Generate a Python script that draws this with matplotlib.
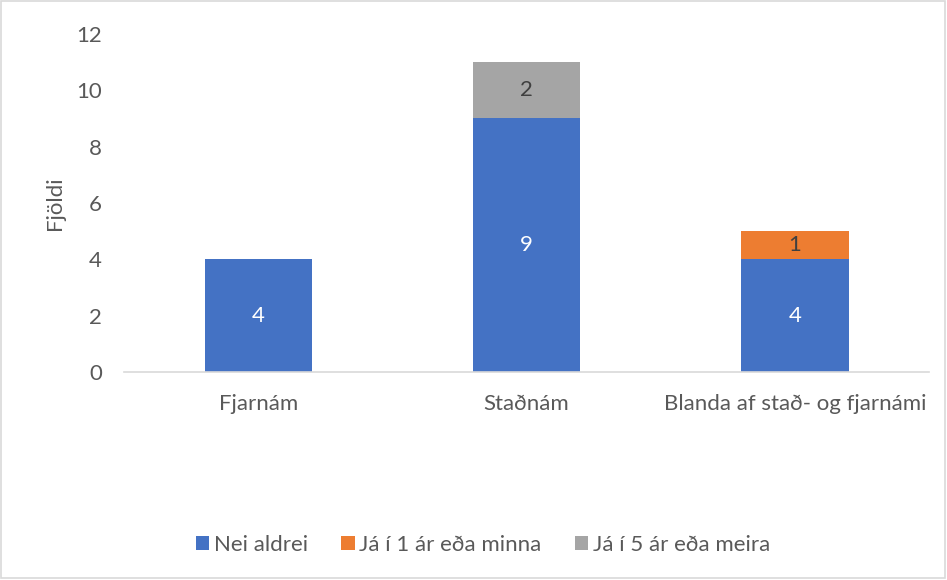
import matplotlib
matplotlib.use("Agg")
import matplotlib.pyplot as plt
from matplotlib.patches import Rectangle
import numpy as np

categories = ["Fjarnám", "Staðnám", "Blanda af stað- og fjarnámi"]
series_names = ["Nei aldrei", "Já í 1 ár eða minna", "Já í 5 ár eða meira"]
nei_aldrei = [4, 9, 4]
ja_1_ar = [0, 0, 1]
ja_5_ar = [0, 2, 0]
yticks = [0, 2, 4, 6, 8, 10, 12]

colors = ["#4472C4", "#ED7D31", "#A5A5A5"]
label_colors = ["white", "#404040", "#404040"]
txt = "#595959"
fs = 16

plt.rcParams['font.family'] = ['Lato', 'DejaVu Sans']

fig = plt.figure(figsize=(9.47, 5.8), dpi=100)
ax = fig.add_axes([124/947, 1-372/580, (929-124)/947, (372-34)/580])

x = np.arange(len(categories))
bottom = np.zeros(len(categories))
for vals, name, c, lc in zip([nei_aldrei, ja_1_ar, ja_5_ar], series_names, colors, label_colors):
    v = np.array(vals, dtype=float)
    ax.bar(x, v, 0.4, bottom=bottom, color=c, label=name, zorder=2)
    for xi, vi, bi in zip(x, v, bottom):
        if vi > 0:
            ax.text(xi, bi + vi/2, f"{int(vi)}", ha="center", va="center",
                    color=lc, fontsize=fs)
    bottom += v

ax.set_xlim(-0.5, 2.5)
ax.set_ylim(0, 12)
ax.set_yticks(yticks)
ax.set_xticks(x)
ax.set_xticklabels(categories)
ax.tick_params(axis="both", length=0, labelsize=fs, labelcolor=txt)
ax.tick_params(axis="y", pad=16)
ax.tick_params(axis="x", pad=16)
for s in ["top", "right", "left"]:
    ax.spines[s].set_visible(False)
ax.spines["bottom"].set_color("#D9D9D9")
ax.spines["bottom"].set_linewidth(1.2)
ax.set_ylabel("Fjöldi", fontsize=fs, color=txt, labelpad=8)

leg = fig.legend(loc="center", bbox_to_anchor=(0.51, 1-545/580), ncol=3, frameon=False,
                 fontsize=fs, handlelength=0.6, handleheight=0.6, handletextpad=0.2,
                 columnspacing=1.5, labelcolor=txt)

fig.patches.append(Rectangle((0.001, 0.003), 0.997, 0.995, transform=fig.transFigure,
                             fill=False, edgecolor="#D9D9D9", linewidth=1.2))

fig.savefig("out.png", dpi=100)
